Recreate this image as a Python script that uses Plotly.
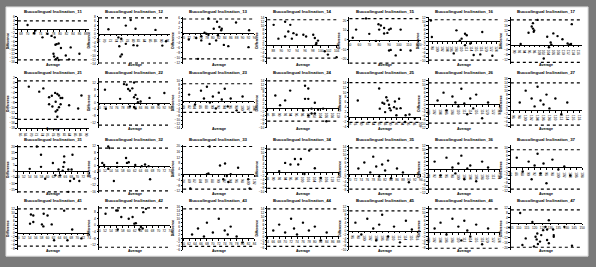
import plotly.graph_objects as go

teeth = [11, 12, 13, 14, 15, 16, 17,
         21, 22, 23, 24, 25, 26, 27,
         31, 32, 33, 34, 35, 36, 37,
         41, 42, 43, 44, 45, 46, 47]
titles = ["Buccolingual Inclination_%d" % t for t in teeth]

# ---------------- data (average, difference) ----------------
avg_11 = [70, 72, 72.4, 74.6, 76.1, 77.4, 78.4, 78.6, 79, 79.6, 80.3, 78, 78.2, 78.7, 79.2, 79.6, 81.8, 82.8, 83.3, 86]
diff_11 = [2, -2, -0.7, -4, -2.3, -3.3, -4, -7.6, -7.3, -7, -9.2, -12, -13.3, -14.6, -14, -15, -12.8, -14.7, -8.9, -12]
avg_12 = [71.3, 77.4, 79.1, 80.8, 74.8, 75.8, 77.4, 75.1, 76, 75.5, 80.1, 81.4, 87.8, 90.2, 91.5]
diff_12 = [2.2, 3.9, 6.5, 2.4, -1.6, -2.2, -4.6, -5.7, -9.5, -10.5, -5.2, -5.4, 1.9, -5.4, -3.4]
avg_13 = [71.9, 74.4, 76.1, 77.2, 77.8, 78.5, 76.1, 78.9, 78.5, 80.3, 81.4, 82.2, 82.8, 83, 81.1, 81.7, 83.7, 85.2, 87.8, 92.2, 92, 75]
diff_13 = [-2.6, -2, -1.3, 0.1, -0.3, -0.7, -3, -4.4, 5.8, 1.7, 4.5, 2.4, 1.1, 1.7, -3, -0.9, -4.8, -5.3, 4.2, 1.1, -5.7, -10.4]
avg_14 = [95.6, 96.3, 98.1, 98.5, 98.9, 99.3, 98.8, 101, 101.8, 104, 88.1, 89.3, 91, 91.8, 92.3, 93.1, 92.7, 93.9, 91]
diff_14 = [5.4, 4.5, 5.4, 3.7, 1.2, 2.4, 0.4, -3, -4.7, -6, 10.4, 3.4, 12, 7, 10.4, 6.2, 3.4, 5.4, 4.5]
avg_15 = [56.7, 53.3, 70, 81.7, 80, 79.3, 85, 85, 88.3, 90, 91.7, 101.7, 76.7, 90, 91.7, 96.7, 101.7, 111.7, 66.7]
diff_15 = [10.7, 2.3, 6.3, 15, 10.7, 16.3, 12.3, 6.7, 7.3, 10.7, 11.7, 10.7, -1, -11, -10.3, -16, -10.3, -11, 22.3]
avg_16 = [97.4, 97.8, 107.8, 111.3, 112, 109.9, 109.2, 111.3, 113.4, 106.7, 114.8, 118.3, 117.5, 122.4]
diff_16 = [10.6, 2.2, 5.6, 3.9, 3.1, 1.4, 0.4, -1.9, -1.1, -6.1, -6.9, 4.8, -6.6, -7.3]
avg_17 = [92.5, 95.7, 97, 97.5, 97.5, 98, 97.8, 99.4, 103.3, 104.7, 105, 104, 105.8, 107.5, 109.5, 111.6, 112.3, 113, 113.3, 101.9]
diff_17 = [0.8, 10.1, 15.4, 18.1, 13.6, 12, 10.9, 20.8, 6.9, 2.1, 0.3, -1.9, 9.6, 7.4, 4.8, 1.3, 0.2, 0.8, 17.3, -11.2]

avg_21 = [69, 72.8, 74.3, 76.4, 77.4, 78.6, 79.4, 80, 80.6, 81.2, 78.8, 76.4, 77.6, 78.8, 79.4, 80, 80.6, 83.7, 87, 88.2, 79.4]
diff_21 = [-1.5, -3.5, -2.2, -5.7, -5.1, -4, -4.4, -5, -6, -6, -7.5, -8.5, -9.4, -11.4, -10.8, -9.7, -8.5, -8.9, -10.2, -5, -13.5]
avg_22 = [72, 72.3, 77.1, 78.4, 79.3, 79.8, 80.4, 81.2, 81.8, 82.3, 82.9, 83.1, 84, 81.8, 80.4, 81.8, 82.3, 87, 90, 92]
diff_22 = [8, -3.6, 2.4, 11.4, 11, 8.4, 7.4, 8.8, 3.4, 4.8, 2.4, 0.3, 0.8, 12.4, -2.2, -2.6, -3.4, 3, -1, 6]
avg_23 = [82, 84, 86, 87, 88, 89, 90, 91, 92, 93, 94, 95, 96, 98, 100]
diff_23 = [3, -2, 5, 1, 7, -1, 2, -4, 4, 0.5, 6, -3, 1, -5, 2]
avg_24 = [98.7, 99.8, 98.7, 99.8, 102, 100.9, 98.1, 100.9, 99.8, 102, 103.1, 104.8, 105.9, 88.7, 92, 93.7, 90.3]
diff_24 = [11.4, 10, 4.7, 4.7, 2.7, -0.3, -1.2, -2.8, -3.7, -2.8, -0.8, -0.3, -6.7, 6.4, 3.9, 8.9, 1.4]
avg_25 = [78.8, 86, 86.2, 87.1, 87.7, 88, 88.4, 88.8, 89.3, 89.5, 89.9, 91, 91.3, 91.9, 92.7, 93.2, 91.8, 94.9, 96.2, 98, 94.7]
diff_25 = [6.7, 11.6, 3.4, 5.8, 5.4, 2, 8, 6.7, 5, 3.6, 2.7, 4, 6.3, 3.4, 7.4, 3.6, 0.7, 0.7, 1, -0.6, -2]
avg_26 = [103, 105, 106, 108, 109, 110, 111, 112, 113, 114, 115, 116, 118, 120]
diff_26 = [2, 6, -3, 4, 1, -1, 8, 0.5, -5, 3, -2, 5, -7, 1]
avg_27 = [98, 100, 102, 103, 104, 105, 106, 107, 108, 110, 112, 114]
diff_27 = [4, 10, 6, 2, 12, 5, 3, 8, 1, 6, -2, 4]

avg_31 = [54, 57.8, 57.8, 59.2, 61.8, 62.6, 63.7, 64.2, 65.1, 65.6, 65.6, 65.3, 67, 67.6, 68.1, 68.4, 68.9, 70.7, 67, 56.4]
diff_31 = [1.9, 13.4, 3.5, -6.1, 6.7, -3.4, 1.4, -3.4, 0.3, 12, 7.2, 3.5, 1.4, -8, 1.4, 13.4, -6.1, -8, -16.8, 20]
avg_32 = [51.1, 51.7, 53.1, 53.5, 53.1, 56.1, 56.1, 55, 59.1, 59.4, 60, 62.2, 64.4, 65.5, 66.7, 67.2]
diff_32 = [1.6, 0.3, 11.6, 10.6, -2, -0.8, 1.6, -9.4, 4.6, 1.6, 2, 0.3, -0.4, 0.6, -0.4, -8.4]
avg_33 = [86.9, 86.5, 86, 90.4, 92.1, 92.7, 91.5, 93.2, 94, 96.5, 99.9, 100.4, 80.4]
diff_33 = [19.8, 0.7, 0.2, 6.3, 7.7, -1.2, -3.5, -5.4, 0.2, 4.7, -3.5, -10, -10]
avg_34 = [94, 95.8, 97.3, 98.4, 99.3, 102.1, 92, 100.5, 104, 106]
diff_34 = [4.7, 3.9, 6.7, 3.9, 6.7, 11, 0.5, -1, 2, -3]
avg_35 = [73, 75, 77, 78, 79, 80, 81, 82, 83, 84, 86, 88, 90]
diff_35 = [3, 6, 1, 9, 4, -1, 5, 2, 7, -2, 3, 1, -4]
avg_36 = [92, 94, 96, 98, 99, 100, 101, 102, 103, 104, 106, 108, 110]
diff_36 = [4, -3, 6, 1, -2, 3, 7, -5, 0.5, 2, -6, 4, 1]
avg_37 = [86, 88, 90, 91, 92, 93, 94, 95, 96, 98, 100, 102, 104]
diff_37 = [5, -2, 3, -6, 1, 7, -3, 2, -8, 4, -1, 0.5, -4]

avg_41 = [54.4, 55.2, 54.1, 55.2, 58.1, 58.6, 58.7, 60, 61.4, 65.6, 62.2, 66.7, 68.3, 71.4]
diff_41 = [9.3, 8.8, 4.7, 5.5, 4.3, 3.3, 9.7, 8.8, 4.3, 11.3, -3.7, -3.7, 1.7, -2.8]
avg_42 = [52.2, 55.8, 56.3, 57.5, 56.3, 60, 61.3, 61.9, 62.4, 64.1, 64.7, 65.8, 64.9, 63.6]
diff_42 = [7, 9, 9, 5, -2.6, 4, 5, 1, 1.3, -1, -2, 10, 8, -2.6]
avg_43 = [63, 65, 67, 68, 70, 72, 74, 75, 76, 78, 80]
diff_43 = [2, 5, 1, 8, 3, 10, 4, 2, 6, 1, -2]
avg_44 = [66, 68, 70, 72, 73, 74, 76, 78, 80, 82, 84]
diff_44 = [3, 6, 2, 9, 4, 1, 7, 3, 5, -2, 2]
avg_45 = [97, 99, 101, 103, 104, 105, 106, 108, 110, 112, 114, 116]
diff_45 = [4, -2, 6, 1, -5, 3, 8, -3, 2, -6, 5, 0.5]
avg_46 = [102, 104, 106, 108, 110, 111, 112, 113, 114, 116, 118, 120]
diff_46 = [2, 5, -1, 7, 3, -4, 6, 1, -2, 4, -6, 2]
avg_47 = [110.9, 112.3, 114.4, 118.6, 120.6, 121.7, 121.3, 122.1, 123.4, 124.2, 125.4, 126.9, 127.9, 129, 127.9, 131.7, 132.1, 132.1, 129, 138.8, 143.6, 119.6]
diff_47 = [8, -17.9, -12.6, 0.8, -11.2, -8.6, -13.4, -17.1, -15.2, -9.9, -5.9, -3.2, -5.4, 2.1, -13.9, -5.4, -9.9, -11.2, -16.5, -3.2, -18.6, -19.1]

# limits of agreement (upper, lower)
loa_upper = [4, 7.5, 5.6, 13, 22, 11, 20.8,
             0.8, 12.8, 8.5, 13.9, 14, 11, 14,
             20, 10.6, 19.8, 11.7, 13.5, 11, 9,
             12.2, 10.6, 15, 14, 10, 12, 10.6]
loa_lower = [-15, -13.5, -10.4, -6.5, -24, -9.5, -14.4,
             -14.5, -13.6, -6, -6.7, -2.2, -9.5, -7.5,
             -16.8, -15.4, -10.5, -8.3, -7.5, -10, -11,
             -6.7, -13.4, -4, -5, -8, -8, -19.8]

avgs = [avg_11, avg_12, avg_13, avg_14, avg_15, avg_16, avg_17,
        avg_21, avg_22, avg_23, avg_24, avg_25, avg_26, avg_27,
        avg_31, avg_32, avg_33, avg_34, avg_35, avg_36, avg_37,
        avg_41, avg_42, avg_43, avg_44, avg_45, avg_46, avg_47]
diffs = [diff_11, diff_12, diff_13, diff_14, diff_15, diff_16, diff_17,
         diff_21, diff_22, diff_23, diff_24, diff_25, diff_26, diff_27,
         diff_31, diff_32, diff_33, diff_34, diff_35, diff_36, diff_37,
         diff_41, diff_42, diff_43, diff_44, diff_45, diff_46, diff_47]

# ---------------- axis configuration ----------------
x_ranges = [(67, 89), (68, 93), (70, 94), (86.5, 104.5), (50, 122), (96.5, 125.5), (88.5, 117.5),
            (65, 91), (70, 94), (80, 104), (86, 110), (76, 100), (100, 124), (95, 119),
            (50, 74), (50, 74), (78, 102), (88, 112), (70, 94), (90, 114), (84, 108),
            (50, 74), (50, 74), (60, 84), (64, 88), (95, 119), (100, 124), (105, 150)]
x_dticks = [2, 2, 2, 2, 10, 2, 2,
            2, 2, 2, 2, 2, 2, 2,
            2, 2, 2, 2, 2, 2, 2,
            2, 2, 2, 2, 2, 2, 5]
y_ranges = [(-17, 6), (-14, 8), (-12.5, 6.5), (-9.5, 14.5), (-25, 24), (-11.5, 12.5), (-15.8, 23.4),
            (-18, 2), (-15.4, 15.2), (-14, 11.5), (-10.2, 15.4), (-4.5, 15.9), (-12, 13.5), (-9, 16.5),
            (-17.8, 21.4), (-16.8, 12.6), (-13.3, 21), (-10.7, 13.9), (-9.5, 15), (-12, 12.5), (-13, 11.5),
            (-8.8, 13.7), (-15.2, 11.8), (-6, 16.5), (-7, 15.5), (-10, 12.5), (-9, 13.5), (-22.2, 13.8)]
y_dticks = [2, 2, 2, 2, 10, 2, 4,
            2, 4, 2, 2, 2, 2, 2,
            5, 4, 4, 2, 2, 2, 2,
            2, 4, 2, 2, 2, 2, 4]
x_axis_at_bottom = {21}

W, H = 596, 267
col_left = [15, 97, 182, 267, 350, 430, 513]
plot_w = 72
rows = [(15, 63), (77, 128), (145, 194), (207, 252)]

FONT = "Liberation Sans, Arial, sans-serif"

fig = go.Figure()
layout = dict(width=W, height=H, margin=dict(l=0, r=0, t=0, b=0),
              paper_bgcolor="#7a7a7a", plot_bgcolor="rgba(0,0,0,0)",
              showlegend=False, font=dict(family=FONT, color="black"))
shapes = [dict(type="rect", xref="paper", yref="paper",
               x0=3 / W, x1=591 / W, y0=1 - 258 / H, y1=1 - 5 / H,
               fillcolor="white", line=dict(color="#d8d8d8", width=1), layer="below")]
annotations = []

for k, t in enumerate(teeth):
    r, c = divmod(k, 7)
    top, bot = rows[r]
    left = col_left[c]
    xd = [left / W, (left + plot_w) / W]
    yd = [1 - bot / H, 1 - top / H]
    y0, y1 = y_ranges[k]
    if t in x_axis_at_bottom:
        pos = yd[0]
    else:
        pos = yd[0] + (0 - y0) / (y1 - y0) * (yd[1] - yd[0])
    n = "" if k == 0 else str(k + 1)
    layout["xaxis" + n] = dict(domain=xd, range=list(x_ranges[k]), anchor="free", position=pos,
                               showline=True, linecolor="black", linewidth=1, ticks="outside",
                               ticklen=1.5, tickwidth=0.7, tickcolor="black", dtick=x_dticks[k],
                               tickfont=dict(size=3.2, color="black"), showgrid=False, zeroline=False)
    layout["yaxis" + n] = dict(domain=yd, range=[y0, y1], anchor="x" + n,
                               showline=True, linecolor="black", linewidth=1, ticks="outside",
                               ticklen=1.5, tickwidth=0.7, tickcolor="black", dtick=y_dticks[k],
                               tickfont=dict(size=3.2, color="black"), showgrid=False, zeroline=False)
    fig.add_trace(go.Scatter(x=avgs[k], y=diffs[k], mode="markers", xaxis="x" + n, yaxis="y" + n,
                             marker=dict(color="black", size=2.4), cliponaxis=False))
    for v in (loa_upper[k], loa_lower[k]):
        shapes.append(dict(type="line", xref="x%s domain" % n, yref="y" + n,
                           x0=0, x1=1, y0=v, y1=v,
                           line=dict(color="black", width=1.2, dash="dot")))
    cx = (left + plot_w / 2) / W
    annotations.append(dict(text="<b>" + titles[k] + "</b>", xref="paper", yref="paper",
                            x=cx, y=1 - (top - 5.5) / H, showarrow=False,
                            font=dict(size=4.4, color="black"), xanchor="center", yanchor="middle"))
    annotations.append(dict(text="<b>Average</b>", xref="paper", yref="paper",
                            x=cx, y=1 - (bot + 0.5) / H, showarrow=False,
                            font=dict(size=3.6, color="black"), xanchor="center", yanchor="middle"))
    annotations.append(dict(text="<b>Difference</b>", xref="paper", yref="paper",
                            x=(left - 10) / W, y=1 - ((top + bot) / 2) / H, showarrow=False,
                            textangle=-90, font=dict(size=3.4, color="black"),
                            xanchor="center", yanchor="middle"))

layout["shapes"] = shapes
layout["annotations"] = annotations
fig.update_layout(**layout)
fig.write_html("out.html")
